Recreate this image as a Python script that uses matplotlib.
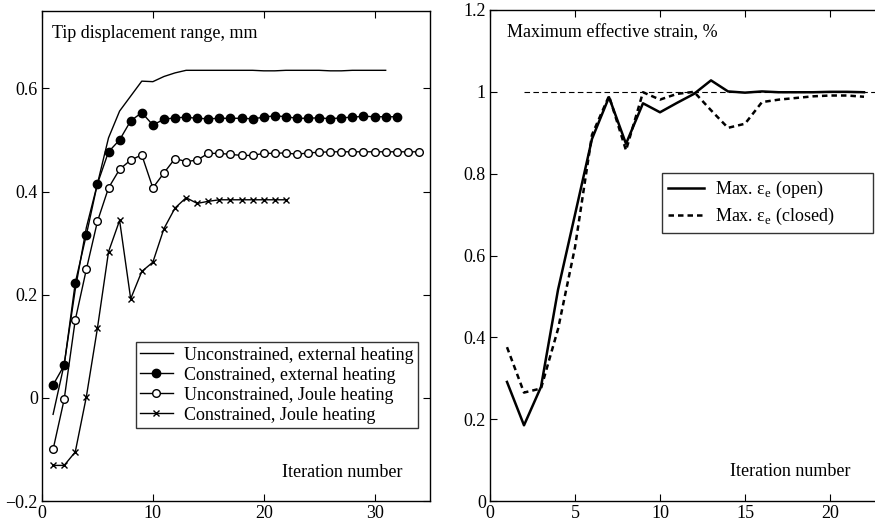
import matplotlib
matplotlib.use("Agg")
import matplotlib.pyplot as plt
from matplotlib.ticker import FuncFormatter

plt.rcParams['font.family'] = ['Liberation Serif', 'DejaVu Serif']
plt.rcParams['mathtext.fontset'] = 'custom'
plt.rcParams['mathtext.rm'] = 'Liberation Serif'
plt.rcParams['axes.unicode_minus'] = True

# ---- Tip displacement range (mm) per iteration ----
unc_ext = [-0.032, 0.065, 0.21, 0.33, 0.415, 0.504, 0.556, 0.585, 0.614, 0.613,
           0.623, 0.630, 0.635, 0.635, 0.635, 0.635, 0.635, 0.635, 0.635, 0.634,
           0.634, 0.635, 0.635, 0.635, 0.635, 0.634, 0.634, 0.635, 0.635, 0.635,
           0.635]
con_ext = [0.025, 0.063, 0.223, 0.316, 0.415, 0.477, 0.500, 0.537, 0.553, 0.529,
           0.540, 0.543, 0.544, 0.542, 0.541, 0.542, 0.542, 0.542, 0.541, 0.544,
           0.547, 0.545, 0.542, 0.542, 0.543, 0.541, 0.543, 0.544, 0.546, 0.545,
           0.545, 0.545]
unc_joule = [-0.100, -0.003, 0.151, 0.249, 0.342, 0.407, 0.443, 0.461, 0.471, 0.407,
             0.436, 0.464, 0.458, 0.461, 0.474, 0.474, 0.472, 0.470, 0.470, 0.474,
             0.474, 0.475, 0.472, 0.475, 0.476, 0.477, 0.477, 0.477, 0.477, 0.477,
             0.477, 0.477, 0.477, 0.477]
con_joule = [-0.131, -0.131, -0.105, 0.002, 0.135, 0.283, 0.344, 0.192, 0.245, 0.263,
             0.328, 0.368, 0.388, 0.377, 0.381, 0.384, 0.384, 0.384, 0.384, 0.384,
             0.384, 0.384]

# ---- Maximum effective strain (%) per iteration ----
strain_open = [0.291, 0.185, 0.279, 0.516, 0.700, 0.885, 0.987, 0.873, 0.972, 0.950,
               0.973, 0.995, 1.028, 1.001, 0.998, 1.001, 0.999, 0.999, 0.999, 1.000,
               1.000, 0.999]
strain_closed = [0.376, 0.265, 0.275, 0.420, 0.620, 0.895, 0.990, 0.857, 0.999, 0.981,
                 0.995, 1.000, 0.955, 0.912, 0.922, 0.975, 0.981, 0.985, 0.989, 0.991,
                 0.991, 0.988]
strain_ref = 1.0

FS = 13
W, H = 875, 524
fig = plt.figure(figsize=(W / 100, H / 100), dpi=100)

def ax_rect(x0, y0, x1, y1):
    return [x0 / W, 1 - y1 / H, (x1 - x0) / W, (y1 - y0) / H]

def style_axes(ax, right=True):
    ax.tick_params(direction='in', length=5, width=0.8, top=True, right=right,
                   labelsize=FS, pad=3)
    for s in ax.spines.values():
        s.set_linewidth(1.0)

fmt = FuncFormatter(lambda v, p: ('%g' % round(v, 3)).replace('-', '\u2212'))
it = lambda s: list(range(1, len(s) + 1))

# Left panel: displacement
ax1 = fig.add_axes(ax_rect(42, 11, 430, 501))
ax1.plot(it(unc_ext), unc_ext, '-', color='black', lw=1.0,
         label='Unconstrained, external heating')
ax1.plot(it(con_ext), con_ext, '-o', color='black', lw=1.0, ms=6,
         mfc='black', mec='black', label='Constrained, external heating')
ax1.plot(it(unc_joule), unc_joule, '-o', color='black', lw=1.0, ms=5.5,
         mfc='white', mec='black', mew=1.0, label='Unconstrained, Joule heating')
ax1.plot(it(con_joule), con_joule, '-x', color='black', lw=1.0, ms=4,
         mew=1.0, label='Constrained, Joule heating')
ax1.set_xlim(0, 35)
ax1.set_ylim(-0.2, 0.75)
ax1.set_xticks([0, 10, 20, 30])
ax1.set_yticks([-0.2, 0, 0.2, 0.4, 0.6])
ax1.yaxis.set_major_formatter(fmt)
style_axes(ax1)
ax1.text(0.025, 0.955, 'Tip displacement range, mm', transform=ax1.transAxes,
         fontsize=FS, va='center', ha='left')
ax1.text(0.928, 0.059, 'Iteration number', transform=ax1.transAxes,
         fontsize=FS, va='center', ha='right')
leg1 = ax1.legend(loc='upper left',
                  bbox_to_anchor=((135.7 - 42) / 388, (501 - 342) / 490,
                                  (418 - 135.7) / 388, 0.0),
                  mode='expand',
                  fontsize=FS, frameon=True, fancybox=False, edgecolor='black',
                  borderpad=0.25, labelspacing=0.17, handlelength=1.8,
                  handletextpad=0.6, borderaxespad=0)
leg1.get_frame().set_linewidth(1.0)

# Right panel: strain (axes runs past the right edge of the figure)
ax2 = fig.add_axes(ax_rect(490, 10, 881, 501))
ax2.plot(it(strain_open), strain_open, '-', color='black', lw=1.8,
         label='Max. ε$_{\\mathregular{e}}$ (open)')
ax2.plot(it(strain_closed), strain_closed, '--', color='black', lw=1.8,
         dashes=(2.2, 1.6), label='Max. ε$_{\\mathregular{e}}$ (closed)')
ax2.plot([2, 23], [strain_ref, strain_ref], '--', color='black', lw=0.8,
         dashes=(5, 3))
ax2.set_xlim(0, 23)
ax2.set_ylim(0, 1.2)
ax2.set_xticks([0, 5, 10, 15, 20])
ax2.set_yticks([0, 0.2, 0.4, 0.6, 0.8, 1.0, 1.2])
ax2.yaxis.set_major_formatter(fmt)
style_axes(ax2, right=False)
ax2.text(0.043, 0.953, 'Maximum effective strain, %', transform=ax2.transAxes,
         fontsize=FS, va='center', ha='left')
ax2.text(0.923, 0.061, 'Iteration number', transform=ax2.transAxes,
         fontsize=FS, va='center', ha='right')
leg2 = ax2.legend(loc='upper left',
                  bbox_to_anchor=((662 - 490) / 391, (501 - 173) / 491,
                                  (873 - 662) / 391, 0.0),
                  mode='expand',
                  fontsize=FS, frameon=True, fancybox=False, edgecolor='black',
                  borderpad=0.35, labelspacing=0.3, handlelength=2.0,
                  handletextpad=0.6, borderaxespad=0)
leg2.get_frame().set_linewidth(1.0)

fig.savefig('out.png', dpi=100, facecolor='white')
